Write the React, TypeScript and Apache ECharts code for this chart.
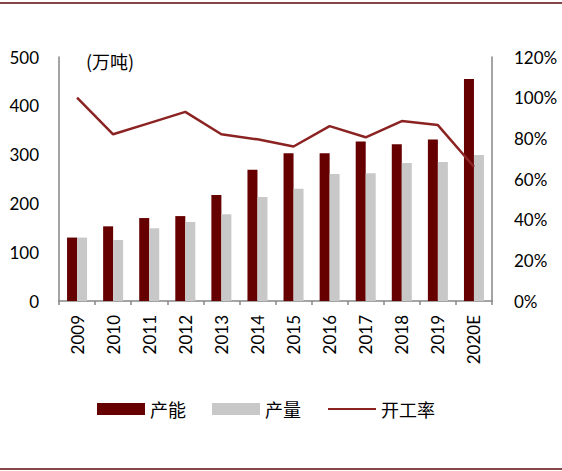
import React, { useEffect, useRef } from "react";
import * as echarts from "echarts";

const categories = ["2009", "2010", "2011", "2012", "2013", "2014", "2015", "2016", "2017", "2018", "2019", "2020E"];
const capacity = [130, 153, 170, 174, 217, 269, 303, 303, 327, 321, 331, 455];
const output = [130, 125, 149, 162, 178, 213, 230, 260, 262, 283, 285, 299];
const utilization = [100, 82, 87.5, 93, 82, 79.5, 76, 86, 80.5, 88.5, 86.5, 66];
const leftTicks = { min: 0, max: 500, interval: 100 };
const rightTicks = { min: 0, max: 120, interval: 20 };

export default function App() {
  const ref = useRef<HTMLDivElement>(null);
  useEffect(() => {
    const chart = echarts.init(ref.current!, null, { renderer: "svg" });
    const font = "Lato, 'Noto Sans', sans-serif";
    const cjk = "'Noto Sans CJK SC', sans-serif";
    chart.setOption({
      animation: false,
      backgroundColor: "#fff",
      grid: { left: 59, right: 70, top: 57, bottom: 170, containLabel: false },
      legend: {
        top: 395,
        left: 92,
        itemWidth: 48,
        itemHeight: 12,
        itemGap: 26,
        textStyle: { fontFamily: cjk, fontSize: 18, color: "#000" },
        data: [
          { name: "产能", icon: "rect" },
          { name: "产量", icon: "rect" },
          { name: "开工率", itemStyle: { opacity: 0 } },
        ],
      },
      xAxis: {
        type: "category",
        data: categories,
        axisLine: { lineStyle: { color: "#868686", width: 1.5 } },
        axisTick: { show: true, length: 4, lineStyle: { color: "#868686", width: 1.5 } },
        axisLabel: { rotate: 90, fontSize: 17, fontFamily: font, color: "#000", margin: 14 },
      },
      yAxis: [
        {
          type: "value",
          ...leftTicks,
          axisLine: { show: true, lineStyle: { color: "#868686", width: 1.5 } },
          axisTick: { show: false },
          splitLine: { show: false },
          axisLabel: { fontSize: 17, fontFamily: font, color: "#000", margin: 20 },
        },
        {
          type: "value",
          ...rightTicks,
          position: "right",
          axisLine: { show: true, lineStyle: { color: "#868686", width: 1.5 } },
          axisTick: { show: false },
          splitLine: { show: false },
          axisLabel: { fontSize: 17, fontFamily: font, color: "#000", margin: 22, formatter: "{value}%" },
        },
      ],
      series: [
        {
          name: "产能",
          type: "bar",
          data: capacity,
          barWidth: 10,
          barGap: "0%",
          itemStyle: { color: "#660000" },
        },
        {
          name: "产量",
          type: "bar",
          data: output,
          barWidth: 10,
          barGap: "0%",
          itemStyle: { color: "#C8C8C8" },
        },
        {
          name: "开工率",
          type: "line",
          yAxisIndex: 1,
          data: utilization,
          symbol: "none",
          lineStyle: { color: "#8B2323", width: 2.5 },
          itemStyle: { color: "#8B2323" },
        },
      ],
      graphic: [
        { type: "line", shape: { x1: 0, y1: 3, x2: 562, y2: 3 }, style: { stroke: "#5C0A0A", lineWidth: 1.5 } },
        { type: "line", shape: { x1: 0, y1: 469, x2: 562, y2: 469 }, style: { stroke: "#5C0A0A", lineWidth: 1.5 } },
        { type: "text", left: 86, top: 52, style: { text: "(万吨)", font: "18px 'Noto Sans CJK SC', sans-serif", fill: "#000" } },
      ],
    });
    return () => chart.dispose();
  }, []);
  return <div ref={ref} style={{ position: "fixed", left: 0, top: 0, width: 562, height: 471 }} />;
}
